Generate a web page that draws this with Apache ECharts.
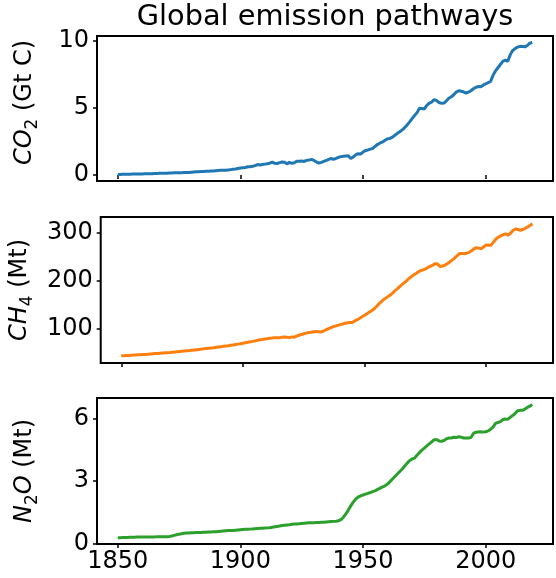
<!DOCTYPE html>
<html>
<head>
<meta charset="utf-8">
<script src="https://cdn.jsdelivr.net/npm/echarts@6/dist/echarts.min.js"></script>
<style>
html,body{margin:0;padding:0;background:#fff;}
#chart{width:556px;height:578px;}
</style>
</head>
<body>
<div id="chart"></div>
<script>
// ---- Data ----
const startYear = 1850;
const xTickValues = [1850, 1900, 1950, 2000];

const co2 = [
  0.05,0.05,0.06,0.06,0.07,0.07,0.08,0.08,0.08,0.09,
  0.09,0.10,0.10,0.10,0.11,0.12,0.12,0.13,0.13,0.14,
  0.14,0.15,0.16,0.17,0.17,0.18,0.18,0.19,0.19,0.20,
  0.22,0.24,0.25,0.26,0.27,0.27,0.28,0.29,0.31,0.31,
  0.33,0.35,0.36,0.37,0.37,0.39,0.41,0.43,0.45,0.49,
  0.53,0.55,0.57,0.62,0.63,0.66,0.71,0.79,0.75,0.79,
  0.82,0.85,0.89,0.97,0.88,0.87,0.93,0.98,0.96,0.84,
  0.95,0.88,0.92,1.04,1.04,1.05,1.02,1.10,1.12,1.18,
  1.10,0.98,0.90,0.95,1.03,1.09,1.18,1.24,1.18,1.25,
  1.33,1.38,1.40,1.42,1.44,1.24,1.35,1.52,1.60,1.58,
  1.72,1.84,1.88,1.94,2.00,2.16,2.30,2.40,2.48,2.60,
  2.72,2.74,2.84,2.98,3.12,3.24,3.38,3.55,3.75,3.98,
  4.22,4.45,4.65,5.00,4.98,4.94,5.20,5.38,5.46,5.64,
  5.56,5.42,5.36,5.38,5.55,5.74,5.85,6.00,6.20,6.30,
  6.26,6.22,6.13,6.20,6.30,6.45,6.55,6.62,6.60,6.72,
  6.82,6.90,7.00,7.45,7.78,8.02,8.26,8.50,8.58,8.50,
  8.98,9.30,9.45,9.56,9.62,9.60,9.58,9.68,9.86,9.90
];

const ch4 = [
  43.0,43.3,43.6,43.9,44.2,44.5,44.8,45.1,45.4,45.7,
  46.0,46.4,46.8,47.2,47.6,48.0,48.4,48.8,49.2,49.6,
  50.0,50.5,51.0,51.5,52.0,52.5,53.0,53.5,54.0,54.6,
  55.2,55.8,56.4,57.0,57.6,58.2,58.8,59.4,60.0,60.7,
  61.4,62.1,62.8,63.5,64.2,65.0,65.8,66.6,67.4,68.4,
  69.4,70.4,71.4,72.4,73.2,74.2,75.4,76.6,77.2,78.0,
  78.8,79.6,80.2,81.0,80.6,80.8,81.6,82.4,82.0,81.0,
  82.6,81.6,84.0,86.0,87.4,89.0,90.4,91.6,92.4,93.4,
  93.6,93.2,92.8,94.4,97.0,99.4,101.6,103.6,105.0,106.6,
  108.2,109.6,111.0,112.0,112.6,112.8,116.0,118.4,121.4,124.6,
  127.6,131.0,134.4,137.6,141.4,146.6,152.0,156.8,161.0,164.6,
  168.2,171.6,176.4,181.0,185.6,190.0,194.2,198.4,203.4,207.4,
  211.2,214.4,218.0,221.0,222.4,224.2,227.6,230.0,232.4,235.6,
  235.0,229.6,230.6,232.4,235.4,239.0,243.0,247.0,252.0,256.6,
  257.0,256.2,257.6,259.2,262.4,267.0,268.8,268.0,266.8,270.8,
  274.4,273.8,274.2,280.6,287.0,291.0,293.6,296.2,297.8,295.0,
  299.0,304.6,307.8,306.8,305.4,306.8,309.4,312.2,315.4,319.0
];

const n2o = [
  0.30,0.30,0.31,0.31,0.31,0.32,0.32,0.32,0.33,0.33,
  0.33,0.33,0.34,0.34,0.34,0.34,0.35,0.35,0.35,0.35,
  0.35,0.36,0.38,0.41,0.44,0.47,0.49,0.51,0.52,0.53,
  0.54,0.54,0.55,0.55,0.55,0.56,0.56,0.57,0.57,0.58,
  0.59,0.60,0.61,0.62,0.63,0.64,0.64,0.65,0.66,0.67,
  0.68,0.69,0.70,0.70,0.71,0.72,0.73,0.74,0.75,0.75,
  0.76,0.77,0.78,0.80,0.82,0.84,0.86,0.88,0.90,0.91,
  0.92,0.94,0.95,0.96,0.97,0.98,0.99,1.00,1.01,1.02,
  1.02,1.03,1.03,1.04,1.04,1.05,1.06,1.07,1.08,1.09,
  1.11,1.16,1.28,1.44,1.62,1.82,2.00,2.14,2.24,2.30,
  2.34,2.38,2.42,2.46,2.50,2.55,2.61,2.67,2.73,2.78,
  2.86,2.98,3.10,3.22,3.34,3.46,3.58,3.72,3.86,3.98,
  4.06,4.10,4.24,4.36,4.48,4.58,4.68,4.78,4.88,4.98,
  4.98,4.92,4.90,4.94,5.02,5.06,5.06,5.10,5.08,5.12,
  5.10,5.06,5.06,5.06,5.08,5.28,5.34,5.35,5.36,5.34,
  5.36,5.40,5.48,5.58,5.76,5.80,5.84,5.94,5.97,5.95,
  6.05,6.13,6.23,6.36,6.38,6.38,6.44,6.52,6.58,6.66
];

const co2Ticks = [0, 5, 10];
const ch4Ticks = [100, 200, 300];
const n2oTicks = [0, 3, 6];

const titleText = 'Global emission pathways';
const co2Label = '{i|CO}{s|2}{n| (Gt C)}';
const ch4Label = '{i|CH}{s|4}{n| (Mt)}';
const n2oLabel = '{i|N}{s|2}{i|O}{n| (Mt)}';

// ---- Chart ----
const FONT = 'DejaVu Sans';
const years = co2.map((_, i) => startYear + i);
const pairs = arr => arr.map((v, i) => [years[i], v]);
const plain = v => String(v);

const rich = {
  i: {fontFamily: FONT, fontStyle: 'italic', fontSize: 24, lineHeight: 24, verticalAlign: 'top', color: '#000'},
  n: {fontFamily: FONT, fontSize: 24, lineHeight: 24, verticalAlign: 'top', color: '#000'},
  s: {fontFamily: FONT, fontSize: 17, lineHeight: 17, padding: [11, 0, 0, 0], verticalAlign: 'top', color: '#000'}
};

const grids = [
  {left: 97, top: 36, width: 456, height: 145},
  {left: 97, top: 217, width: 456, height: 146},
  {left: 97, top: 398, width: 456, height: 146}
].map(g => Object.assign(g, {show: true, borderColor: '#000', borderWidth: 2, backgroundColor: 'transparent'}));

function xAx(idx, showLabel) {
  return {
    type: 'value', gridIndex: idx, min: 1841.55, max: 2027.45,
    axisLine: {show: false},
    splitLine: {show: false},
    axisTick: {show: true, inside: false, length: 4, lineStyle: {color: '#000', width: 1.5}, customValues: xTickValues},
    axisLabel: {show: showLabel, customValues: xTickValues, formatter: plain, margin: 6, color: '#000', fontFamily: FONT, fontSize: 24}
  };
}
function yAx(idx, min, max, ticks, name, pad) {
  return {
    type: 'value', gridIndex: idx, min: min, max: max,
    axisLine: {show: false},
    splitLine: {show: false},
    axisTick: {show: true, inside: false, length: 4, lineStyle: {color: '#000', width: 1.5}, customValues: ticks},
    axisLabel: {customValues: ticks, formatter: plain, margin: 8, color: '#000', fontFamily: FONT, fontSize: 24},
    name: name, nameLocation: 'middle', nameRotate: 90, nameGap: 60,
    nameTextStyle: {rich: rich, padding: pad}
  };
}

const chart = echarts.init(document.getElementById('chart'), null, {renderer: 'canvas'});
chart.setOption({
  animation: false,
  backgroundColor: '#fff',
  grid: grids,
  xAxis: [xAx(0, false), xAx(1, false), xAx(2, true)],
  yAxis: [
    yAx(0, -0.44, 10.39, co2Ticks, co2Label, [0, 0, 0, 12]),
    yAx(1, 28, 333, ch4Ticks, ch4Label, 0),
    yAx(2, 0, 6.97, n2oTicks, n2oLabel, 0)
  ],
  series: [
    {type: 'line', xAxisIndex: 0, yAxisIndex: 0, data: pairs(co2), showSymbol: false, lineStyle: {color: '#1f77b4', width: 3}, itemStyle: {color: '#1f77b4'}},
    {type: 'line', xAxisIndex: 1, yAxisIndex: 1, data: pairs(ch4), showSymbol: false, lineStyle: {color: '#ff7f0e', width: 3}, itemStyle: {color: '#ff7f0e'}},
    {type: 'line', xAxisIndex: 2, yAxisIndex: 2, data: pairs(n2o), showSymbol: false, lineStyle: {color: '#2ca02c', width: 3}, itemStyle: {color: '#2ca02c'}}
  ],
  graphic: [
    {type: 'text', x: 325, y: 18, style: {text: titleText, font: '28.8px "DejaVu Sans"', fill: '#000', textAlign: 'center', textVerticalAlign: 'middle'}}
  ]
});
</script>
</body>
</html>
